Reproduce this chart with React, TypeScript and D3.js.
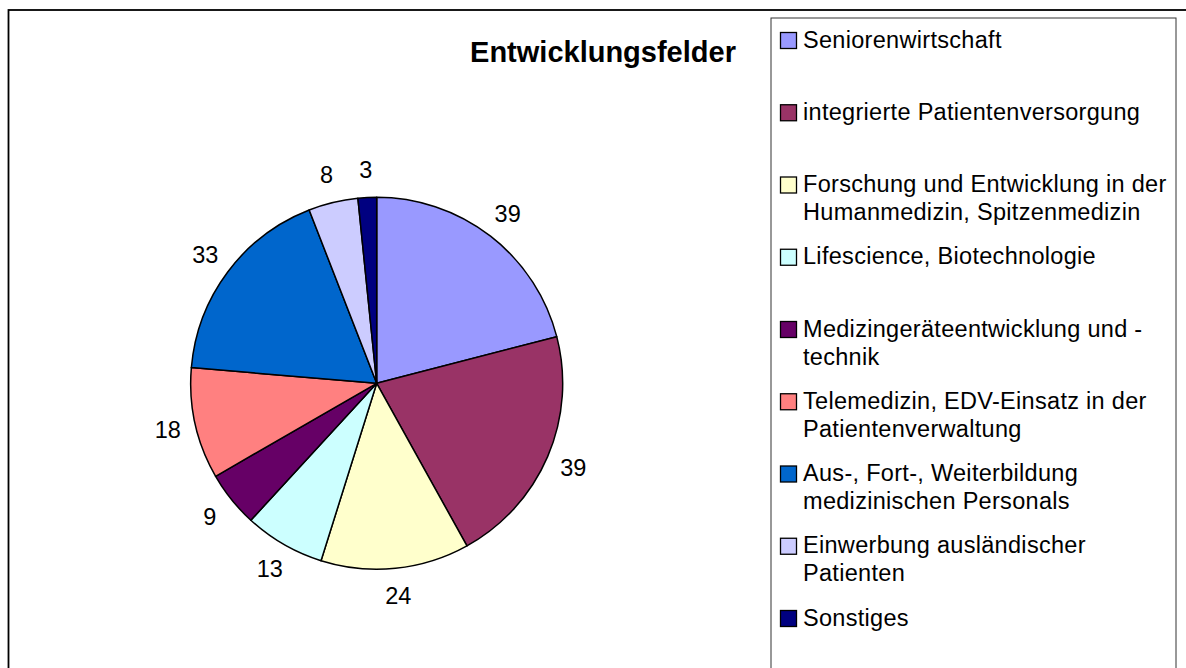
import React from "react";
import * as d3 from "d3";

const title = "Entwicklungsfelder";
const categories = [
  "Seniorenwirtschaft",
  "integrierte Patientenversorgung",
  "Forschung und Entwicklung in der\nHumanmedizin, Spitzenmedizin",
  "Lifescience, Biotechnologie",
  "Medizingeräteentwicklung und -\ntechnik",
  "Telemedizin, EDV-Einsatz in der\nPatientenverwaltung",
  "Aus-, Fort-, Weiterbildung\nmedizinischen Personals",
  "Einwerbung ausländischer\nPatienten",
  "Sonstiges",
];
const values = [39, 39, 24, 13, 9, 18, 33, 8, 3];
const colors = [
  "#9999FF", "#993366", "#FFFFCC", "#CCFFFF", "#660066",
  "#FF8080", "#0066CC", "#CCCCFF", "#000080",
];

const W = 1186;
const H = 668;
const cx = 376.7;
const cy = 383.3;
const radius = 186;
const labelRadius = 214;
const font = "'Liberation Sans', Arial, sans-serif";

export default function App() {
  const pie = d3.pie<number>().sort(null).value((d) => d);
  const arcs = pie(values);
  const arc = d3.arc<d3.PieArcDatum<number>>().innerRadius(0).outerRadius(radius);
  const labelArc = d3
    .arc<d3.PieArcDatum<number>>()
    .innerRadius(labelRadius)
    .outerRadius(labelRadius);

  // legend rows are evenly spaced down the box
  const legendY = d3.scaleLinear().domain([0, categories.length - 1]).range([32, 610]);

  return (
    <svg
      width={W}
      height={H}
      style={{ position: "absolute", left: 0, top: 0, background: "#fff" }}
      fontFamily={font}
    >
      <rect x={8.5} y={10} width={W + 20} height={H + 20} fill="#fff" stroke="#000" strokeWidth={1.8} />
      <text x={603} y={62} textAnchor="middle" fontSize={29} fontWeight="bold" fill="#000">
        {title}
      </text>
      <g transform={`translate(${cx},${cy})`}>
        {arcs.map((a, i) => (
          <path key={i} d={arc(a) || ""} fill={colors[i]} stroke="#000" strokeWidth={1.5} strokeLinejoin="round" />
        ))}
        {arcs.map((a, i) => {
          const [x, y] = labelArc.centroid(a);
          return (
            <text key={i} x={x} y={y} textAnchor="middle" dominantBaseline="central" fontSize={23.5} fill="#000">
              {values[i]}
            </text>
          );
        })}
      </g>
      <rect x={771} y={18} width={405} height={H + 20} fill="#fff" stroke="#333" strokeWidth={1} />
      {categories.map((c, i) => {
        const y0 = legendY(i);
        return (
          <g key={i}>
            <rect x={780.5} y={y0 + 0.5} width={16} height={16} fill={colors[i]} stroke="#000" strokeWidth={1.3} />
            {c.split("\n").map((line, j) => (
              <text key={j} x={803} y={y0 + 15.5 + j * 28} fontSize={23.5} letterSpacing={0.3} fill="#000">
                {line}
              </text>
            ))}
          </g>
        );
      })}
    </svg>
  );
}
